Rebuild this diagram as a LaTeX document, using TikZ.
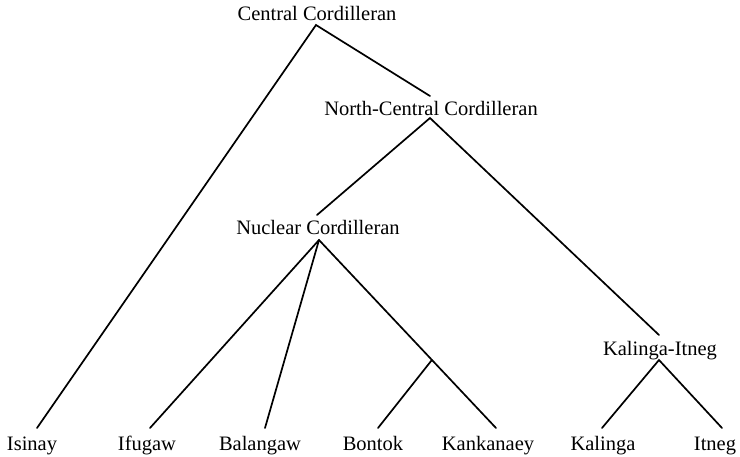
\documentclass[tikz,border=0pt]{standalone}
\usepackage{fontspec}
\setmainfont{Liberation Serif}
\usetikzlibrary{calc}
\begin{document}
\begin{tikzpicture}[x=1pt,y=-1pt,
  lbl/.style={inner sep=0pt,anchor=base,font=\fontsize{20.5}{24}\selectfont},
  br/.style={line width=1.7pt,line cap=round}]
\useasboundingbox (0,0) rectangle (740,456);
% labels
\node[lbl] (cc) at (317,20) {Central Cordilleran};
\node[lbl] (nc) at (431,115) {North-Central Cordilleran};
\node[lbl] (nu) at (318,234) {Nuclear Cordilleran};
\node[lbl] (ki) at (660,355) {Kalinga-Itneg};
\node[lbl] (is) at (32,450) {Isinay};
\node[lbl] (if) at (147,450) {Ifugaw};
\node[lbl] (ba) at (260,450) {Balangaw};
\node[lbl] (bo) at (373,450) {Bontok};
\node[lbl] (kk) at (488,450) {Kankanaey};
\node[lbl] (ka) at (603,450) {Kalinga};
\node[lbl] (it) at (715,450) {Itneg};
% tips
\coordinate (ccb) at (316,25);
\coordinate (nct) at (430,96);
\coordinate (ncb) at (430,118);
\coordinate (nut) at (317,215);
\coordinate (nub) at (319,240);
\coordinate (kit) at (659,335);
\coordinate (kib) at (659,360);
\coordinate (ist) at (37,428);
\coordinate (ift) at (150,428);
\coordinate (bat) at (265,428);
\coordinate (bot) at (378,428);
\coordinate (kkt) at (496,428);
\coordinate (kat) at (602,428);
\coordinate (itt) at (722,428);
\coordinate (j) at ($(nub)!0.638!(kkt)$);
% branches
\draw[br] (ist) -- (ccb) -- (nct);
\draw[br] (nut) -- (ncb) -- (kit);
\draw[br] (ift) -- (nub) -- (kkt);
\draw[br] (nub) -- (bat);
\draw[br] (bot) -- (j);
\draw[br] (kat) -- (kib) -- (itt);
\end{tikzpicture}
\end{document}
